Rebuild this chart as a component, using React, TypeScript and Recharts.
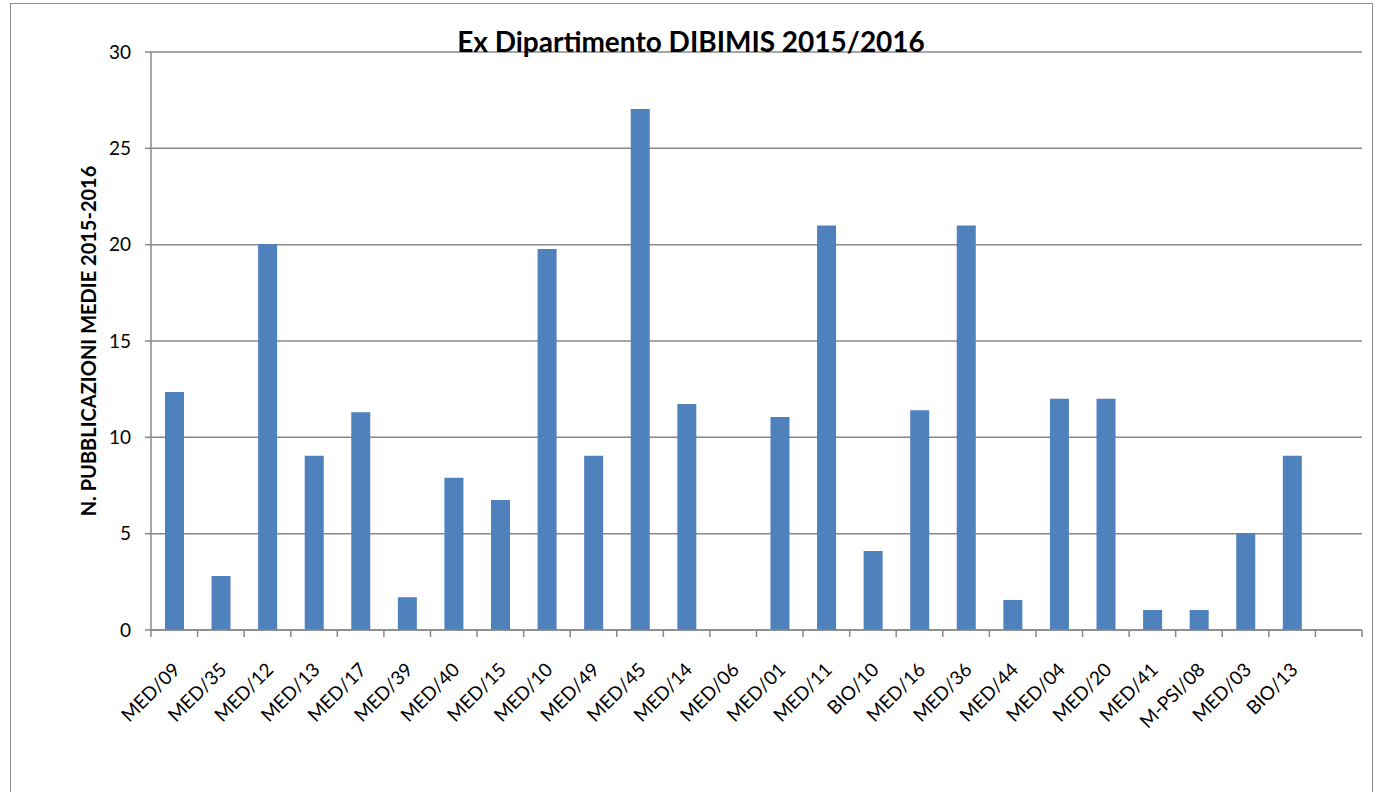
import React from "react";
import {
  BarChart,
  Bar,
  XAxis,
  YAxis,
  CartesianGrid,
  Label,
} from "recharts";

// settori scientifico-disciplinari (ultimo slot vuoto come nell'originale)
const categories = [
  "MED/09", "MED/35", "MED/12", "MED/13", "MED/17", "MED/39", "MED/40",
  "MED/15", "MED/10", "MED/49", "MED/45", "MED/14", "MED/06", "MED/01",
  "MED/11", "BIO/10", "MED/16", "MED/36", "MED/44", "MED/04", "MED/20",
  "MED/41", "M-PSI/08", "MED/03", "BIO/13", "",
];

const publications = [
  12.35, 2.8, 20.03, 9.05, 11.3, 1.7, 7.9,
  6.75, 19.77, 9.05, 27.04, 11.73, 0, 11.05,
  21.0, 4.1, 11.4, 21.0, 1.56, 12.0, 12.0,
  1.04, 1.04, 5.03, 9.05, null,
];

const yTicks = [0, 5, 10, 15, 20, 25, 30];

const data = categories.map((name, i) => ({ name, value: publications[i] }));

const FONT = "Lato, 'Open Sans', sans-serif";
const AXIS = "#888888";

function CategoryTick(props: any) {
  const { x, y, payload, index } = props;
  const half = payload?.offset ?? 0;
  const last = index === categories.length - 1;
  const tx = x + 7;
  const ty = y + 41;
  return (
    <g>
      <line x1={x - half} x2={x - half} y1={y} y2={y + 7} stroke={AXIS} strokeWidth={1.5} />
      {last && (
        <line x1={x + half} x2={x + half} y1={y} y2={y + 7} stroke={AXIS} strokeWidth={1.5} />
      )}
      {payload.value !== "" && (
        <text
          x={tx}
          y={ty}
          textAnchor="end"
          transform={`rotate(-45, ${tx}, ${ty})`}
          fontSize={19}
          fontFamily={FONT}
          fill="#000"
        >
          {payload.value}
        </text>
      )}
    </g>
  );
}

export default function App() {
  return (
    <div
      style={{
        position: "absolute",
        left: 0,
        top: 0,
        width: 1377,
        height: 792,
        overflow: "hidden",
        background: "#fff",
      }}
    >
      <div
        style={{
          position: "absolute",
          left: 10,
          top: 3,
          width: 1361,
          height: 830,
          border: "1.5px solid #8c8c8c",
        }}
      />
      <div
        style={{
          position: "absolute",
          left: 0,
          top: 24,
          width: 1382,
          textAlign: "center",
          fontFamily: FONT,
          fontWeight: 700,
          fontSize: 28,
          lineHeight: "34px",
          color: "#000",
          zIndex: 2,
        }}
      >
        Ex Dipartimento DIBIMIS 2015/2016
      </div>
      <div style={{ position: "absolute", left: 0, top: 0 }}>
        <BarChart
          width={1377}
          height={792}
          data={data}
          margin={{ top: 52, right: 15, left: 91, bottom: 82 }}
          barCategoryGap="30%"
        >
          <CartesianGrid vertical={false} stroke={AXIS} strokeWidth={1.5} />
          <XAxis
            dataKey="name"
            interval={0}
            height={80}
            tickSize={0}
            tickMargin={0}
            tickLine={false}
            axisLine={{ stroke: AXIS, strokeWidth: 1.5 }}
            tick={<CategoryTick />}
          />
          <YAxis
            width={60}
            domain={[0, 30]}
            ticks={yTicks}
            interval={0}
            tickSize={6}
            tickMargin={14}
            tickLine={{ stroke: AXIS, strokeWidth: 1.5 }}
            axisLine={{ stroke: AXIS, strokeWidth: 1.5 }}
            tick={{ fontSize: 19, fontFamily: FONT, fill: "#000" }}
          >
            <Label
              content={(p: any) => {
                const vb = p.viewBox;
                const cx = 96;
                const cy = vb.y + vb.height / 2;
                return (
                  <text
                    x={cx}
                    y={cy}
                    textAnchor="middle"
                    transform={`rotate(-90, ${cx}, ${cy})`}
                    fontSize={20}
                    fontWeight={700}
                    fontFamily={FONT}
                    fill="#000"
                  >
                    N. PUBBLICAZIONI MEDIE 2015-2016
                  </text>
                );
              }}
            />
          </YAxis>
          <Bar dataKey="value" fill="#4F81BD" isAnimationActive={false} />
        </BarChart>
      </div>
    </div>
  );
}
